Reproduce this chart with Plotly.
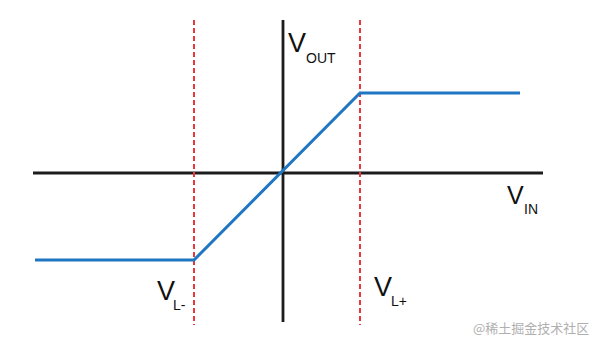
import plotly.graph_objects as go

# Transfer characteristic (arbitrary units; origin at axis crossing)
vin = [-248, -89, 77, 237]
vout = [-87, -87, 80, 80]

# Limit positions (V_L-, V_L+)
limits_x = [-89, 77]
limit_span = [153, -152]

# Axis extents
haxis_x = [-250, 260]
vaxis_y = [153, -149]

fig = go.Figure()

# Horizontal axis (V_IN)
fig.add_trace(go.Scatter(x=haxis_x, y=[0, 0], mode="lines",
                         line=dict(color="#1c1c1c", width=2.8), hoverinfo="skip"))
# Vertical axis (V_OUT)
fig.add_trace(go.Scatter(x=[0, 0], y=vaxis_y, mode="lines",
                         line=dict(color="#1c1c1c", width=2.8), hoverinfo="skip"))
# Red dashed limit lines
for lx in limits_x:
    fig.add_trace(go.Scatter(x=[lx, lx], y=limit_span, mode="lines",
                             line=dict(color="#e8383d", width=2, dash="5px,3px"),
                             hoverinfo="skip"))
# Blue transfer curve
fig.add_trace(go.Scatter(x=vin, y=vout, mode="lines",
                         line=dict(color="#1f77c4", width=3), hoverinfo="skip"))

font_main = "Liberation Sans, Arial, sans-serif"

def label(xv, yv, main, sub, vsize, ssize, subdx, subdy):
    anns = [
        dict(x=xv, y=yv, xref="x", yref="y", text=main, showarrow=False,
             xanchor="left", yanchor="middle",
             font=dict(family=font_main, size=vsize, color="#111111")),
        dict(x=xv + subdx, y=yv - subdy, xref="x", yref="y", text=sub, showarrow=False,
             xanchor="left", yanchor="middle",
             font=dict(family=font_main, size=ssize, color="#111111")),
    ]
    return anns

anns = []
anns += label(3, 130, "V", "OUT", 27, 14, 18, 15)
anns += label(222, -22, "V", "IN", 25, 14, 17, 14)
anns += label(-128, -118, "V", "L-", 27, 14, 16, 14)
anns += label(89, -114, "V", "L+", 27, 14, 17, 14)
anns.append(dict(x=0.985, y=0.035, xref="paper", yref="paper", text="@稀土掘金技术社区",
                 showarrow=False, xanchor="right", yanchor="bottom",
                 font=dict(family="Noto Sans CJK SC, sans-serif", size=13, color="#b0b0b0")))

fig.update_layout(
    width=600, height=351,
    margin=dict(l=0, r=0, t=0, b=0),
    paper_bgcolor="white", plot_bgcolor="white",
    showlegend=False,
    xaxis=dict(range=[-283, 317], visible=False, fixedrange=True),
    yaxis=dict(range=[-178, 173], visible=False, fixedrange=True),
    annotations=anns,
)

fig.write_html("out.html")
